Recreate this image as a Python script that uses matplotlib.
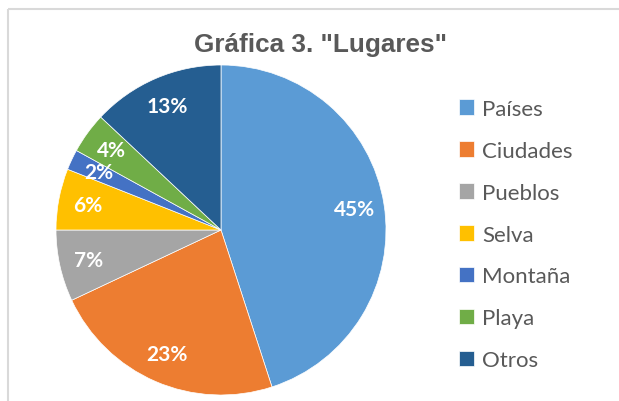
import matplotlib
matplotlib.use("Agg")
import matplotlib.pyplot as plt
from matplotlib.patches import Rectangle

categories = ["Países", "Ciudades", "Pueblos", "Selva", "Montaña", "Playa", "Otros"]
values = [45, 23, 7, 6, 2, 4, 13]
colors = ["#5B9BD5", "#ED7D31", "#A5A5A5", "#FFC000", "#4472C4", "#70AD47", "#255E91"]
title = 'Gráfica 3. "Lugares"'

W, H = 619, 402
fig = plt.figure(figsize=(W / 100, H / 100), dpi=100)
fig.patch.set_facecolor("white")

def px(x, y, w, h):
    return (x / W, 1 - (y + h) / H, w / W, h / H)

matplotlib.rcParams["hatch.color"] = "#F3F3F3"
bg = fig.add_axes([0, 0, 1, 1])
bg.set_xlim(0, W)
bg.set_ylim(H, 0)
bg.axis("off")
bg.add_patch(Rectangle((9, 11), W, H, facecolor="white", edgecolor="none",
                       lw=0, hatch="///"))
bg.add_patch(Rectangle((26, 48), 360, H, facecolor="white", edgecolor="none"))
bg.add_patch(Rectangle((26, 11), 360, 40, facecolor="white", edgecolor="none"))
bg.add_patch(Rectangle((452, 86), 148, 300, facecolor="white", edgecolor="none"))
bg.add_patch(Rectangle((8, 10), W + 20, H + 20, facecolor="none", edgecolor="#D9D9D9", lw=1.5))

cx, cy, r = 221, 231, 165
ax = fig.add_axes(px(cx - r, cy - r, 2 * r, 2 * r))
wedges, texts, autotexts = ax.pie(
    values, colors=colors, startangle=90, counterclock=False,
    autopct=lambda p: f"{p:.0f}%", pctdistance=0.82,
    wedgeprops=dict(edgecolor="white", linewidth=0.5),
    textprops=dict(color="white", fontsize=15, fontweight="bold", family="Lato"),
)
ax.set_xlim(-1, 1)
ax.set_ylim(-1, 1)
ax.set_aspect("equal")
ax.axis("off")

fig.text(320 / W, 1 - 45 / H, title, ha="center", va="center", fontsize=18.8,
         fontweight="bold", color="#595959", family="Liberation Sans")

leg = fig.legend(wedges, categories, loc="upper left",
                 bbox_to_anchor=(450 / W, 1 - 91 / H), frameon=False,
                 prop=dict(family="Lato", size=16), labelcolor="#595959",
                 handlelength=0.7, handleheight=0.7, handletextpad=0.35,
                 labelspacing=0.985, borderaxespad=0)

fig.savefig("out.png", dpi=100)
